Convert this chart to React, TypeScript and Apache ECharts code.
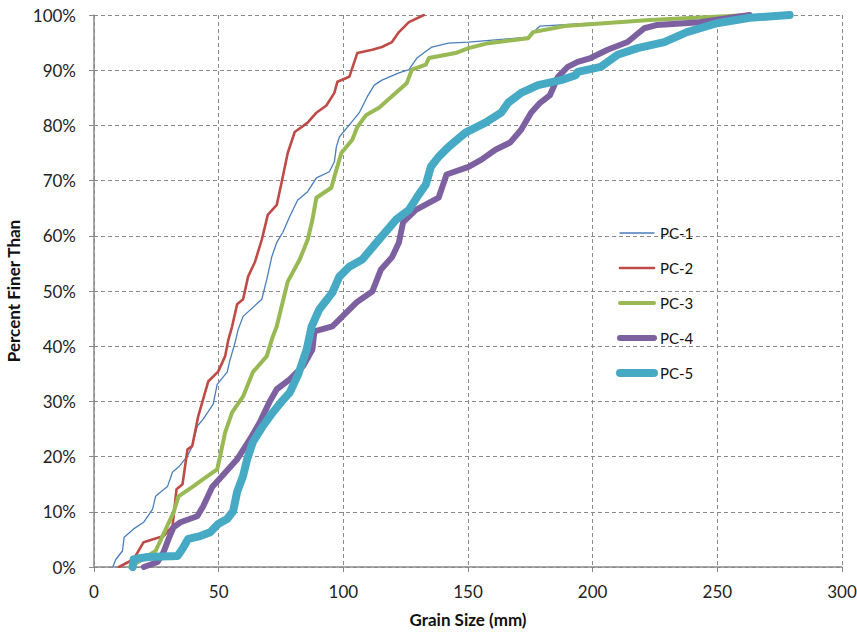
import React, { useEffect, useRef } from "react";
import * as echarts from "echarts";

const seriesNames = ["PC-1", "PC-2", "PC-3", "PC-4", "PC-5"];
const colors = ["#4A7EBB", "#BE4B48", "#98B954", "#7D60A0", "#46AAC5"];
const widths = [1.3, 2.6, 4, 6, 8];

const pc1: number[][] = [
  [7.5, 0], [8.8, 1.4], [11.4, 2.9], [12.1, 5.4], [15.9, 6.9], [19.9, 8.1], [23.5, 10.5], [24.7, 12.8],
  [26.7, 13.6], [29.5, 14.6], [31.5, 17.2], [33.9, 18.1], [37.5, 20.1], [39.4, 21.9], [41.4, 25.5],
  [43.8, 26.8], [47.8, 29.5], [49.4, 33.1], [53.4, 35.3], [54.6, 37.6], [56.6, 40.7], [57.8, 43.0],
  [59.8, 45.4], [67.3, 48.5], [69.3, 52.1], [71.3, 56.2], [73.3, 58.8], [75.7, 60.6], [78.5, 63.5],
  [81.7, 66.5], [85.7, 68.0], [89.2, 70.5], [94.4, 71.6], [96.4, 73.4], [97.2, 76.1], [98.4, 77.9],
  [102.4, 80.1], [106.4, 82.3], [109.6, 85.2], [112.4, 87.3], [115.5, 88.2], [122.3, 89.5],
  [126.3, 90.1], [129.5, 92.2], [135.5, 94.2], [142.2, 94.9], [150.2, 95.1], [161.0, 95.5],
  [174.1, 96.0], [178.9, 98.0], [194.0, 98.4], [220, 99.0], [262, 100],
];

const pc2: number[][] = [
  [10, 0], [15.9, 1.4], [19.9, 4.5], [27.9, 5.6], [31.5, 7.4], [33.1, 14.1], [35.5, 15.0], [37.5, 21.3],
  [39.4, 21.9], [41.8, 27.3], [45.8, 33.6], [49.8, 35.4], [52.6, 38.2], [53.8, 41.0], [55.4, 43.6],
  [57.4, 47.6], [59.8, 48.5], [61.8, 52.6], [64.5, 55.2], [67.3, 59.3], [69.7, 63.8], [73.3, 65.6],
  [75.3, 69.8], [77.7, 75.0], [80.5, 78.8], [85.7, 80.5], [89.2, 82.3], [93.2, 83.6], [96.4, 85.9],
  [97.6, 87.9], [102.4, 88.8], [105.6, 93.1], [111.6, 93.7], [115.5, 94.2], [119.5, 95.1],
  [122.3, 96.9], [126.3, 98.7], [132.3, 100],
];

const pc3: number[][] = [
  [14.5, 0], [15.9, 0.4], [24.7, 2.9], [27.5, 5.6], [31.9, 9.9], [33.9, 12.8], [39.8, 14.6],
  [43.8, 15.9], [49.4, 17.7], [50.6, 20.1], [52.6, 24.4], [55.4, 28.0], [59.8, 30.9], [63.7, 35.3],
  [69.3, 38.2], [71.3, 41.2], [73.3, 43.6], [77.7, 51.7], [82.5, 55.7], [85.7, 59.3], [87.6, 62.9],
  [89.2, 66.9], [95.2, 68.7], [96.4, 70.7], [99.2, 75.0], [103.6, 77.4], [105.6, 79.7], [109.2, 81.9],
  [114.3, 83.2], [121.1, 85.9], [125.5, 87.7], [127.5, 90.1], [133.1, 91.0], [134.3, 92.2],
  [145.0, 93.1], [150.2, 94.0], [158.2, 94.9], [174.1, 95.8], [176.1, 96.9], [188.8, 98.0],
  [223, 99.1], [263, 100],
];

const pc4: number[][] = [
  [20, 0], [25.5, 0.9], [27.9, 2.7], [29.9, 5.1], [31.9, 7.2], [34.7, 8.1], [41.4, 9.2], [43.8, 11.0],
  [47.4, 14.5], [51.4, 16.5], [57.4, 19.5], [62.5, 23.1], [66.5, 26.2], [70.5, 30.0], [73.3, 32.2],
  [78.5, 34.0], [84, 36.5], [87.6, 39.4], [88.4, 42.7], [95.6, 43.6], [105.2, 47.9], [111.6, 49.9],
  [115.1, 53.9], [119.5, 56.1], [122.3, 58.8], [124, 62.5], [129.1, 64.7], [138.2, 66.9],
  [141.4, 71.1], [150.2, 72.5], [155.4, 73.8], [161.0, 75.6], [166.9, 76.9], [171.3, 79.2],
  [175.3, 82.3], [178.9, 84.1], [182.9, 85.5], [186.1, 88.8], [190.0, 90.6], [194.0, 91.5],
  [199.2, 92.2], [206, 93.7], [214, 95.1], [220.7, 97.6], [225.9, 98.2], [243, 98.7],
  [256.6, 99.6], [263, 100],
];

const pc5: number[][] = [
  [15.5, 0], [15.9, 1.4], [21.5, 1.8], [33.5, 2.0], [35.5, 3.3], [37.8, 5.1], [42.6, 5.6],
  [46.6, 6.3], [49.8, 7.8], [53.4, 8.7], [55.8, 10.1], [57.4, 13.6], [59.8, 16.5], [61.4, 19.5],
  [63.7, 22.6], [67.7, 25.5], [71.7, 28.0], [75.3, 30.0], [78.5, 31.6], [82, 35], [85.3, 39.4],
  [87.3, 43.6], [90.4, 46.7], [95.6, 49.7], [98.4, 52.6], [102.4, 54.4], [107.6, 55.7],
  [114.3, 59.3], [121.1, 62.9], [126.3, 64.7], [130.3, 67.5], [133.1, 69.3], [135.1, 72.5],
  [138.2, 74.3], [142.2, 76.1], [149.0, 78.7], [157.0, 80.5], [163.3, 82.3], [166.1, 84.1],
  [171.3, 85.9], [178.1, 87.3], [187.3, 88.2], [193.2, 89.1], [194, 89.7], [203.2, 90.6],
  [210, 92.8], [218, 94.0], [228.7, 95.1], [237.8, 96.9], [249.8, 98.5], [263, 99.5], [279, 100],
];

const allData = [pc1, pc2, pc3, pc4, pc5];
const xTicks = { min: 0, max: 300, interval: 50 };
const yTicks = { min: 0, max: 100, interval: 10 };

const FONT = "Lato";

export default function App() {
  const ref = useRef<HTMLDivElement>(null);
  useEffect(() => {
    document.body.style.margin = "0";
    document.body.style.overflow = "hidden";
    if (!ref.current) return;
    const chart = echarts.init(ref.current, undefined, { renderer: "svg" });
    const gridLine = { show: true, lineStyle: { color: "#8a8a8a", type: [4, 3], width: 1 } };

    const legendTop = 233;
    const legendStep = 35;
    const legendItems: any[] = [];
    seriesNames.forEach((name, i) => {
      const y = legendTop + i * legendStep;
      legendItems.push({
        type: "line",
        shape: { x1: 620, y1: y, x2: 654, y2: y },
        style: { stroke: colors[i], lineWidth: widths[i], lineCap: "round" },
        z: 100,
      });
      legendItems.push({
        type: "text",
        x: 660,
        y,
        style: {
          text: name,
          fill: "#111",
          font: `15px ${FONT}`,
          verticalAlign: "middle",
          align: "left",
        },
        z: 100,
      });
    });

    chart.setOption({
      animation: false,
      backgroundColor: "#ffffff",
      grid: {
        left: 94,
        right: 15,
        top: 15,
        bottom: 66,
        containLabel: false,
        outerBoundsMode: "none",
      },
      graphic: legendItems,
      xAxis: {
        type: "value",
        min: xTicks.min,
        max: xTicks.max,
        interval: xTicks.interval,
        name: "Grain Size (mm)",
        nameLocation: "middle",
        nameGap: 44,
        nameTextStyle: { fontFamily: FONT, fontSize: 17, fontWeight: "bold", color: "#111" },
        axisLine: { show: true, lineStyle: { color: "#8a8a8a", width: 1.5 } },
        axisTick: { show: true, length: 5, lineStyle: { color: "#8a8a8a" } },
        axisLabel: { fontFamily: FONT, fontSize: 17, color: "#222", margin: 16 },
        splitLine: gridLine,
      },
      yAxis: {
        type: "value",
        min: yTicks.min,
        max: yTicks.max,
        interval: yTicks.interval,
        name: "Percent Finer Than",
        nameLocation: "middle",
        nameGap: 64,
        nameTextStyle: { fontFamily: FONT, fontSize: 17, fontWeight: "bold", color: "#111" },
        axisLine: { show: true, lineStyle: { color: "#8a8a8a", width: 1.5 } },
        axisTick: { show: true, length: 5, lineStyle: { color: "#8a8a8a" } },
        axisLabel: { fontFamily: FONT, fontSize: 17, color: "#222", margin: 18, formatter: "{value}%" },
        splitLine: gridLine,
      },
      series: seriesNames.map((name, i) => ({
        name,
        type: "line",
        data: allData[i],
        showSymbol: false,
        symbol: "none",
        color: colors[i],
        lineStyle: { color: colors[i], width: widths[i], cap: "round", join: "round" },
        z: 2 + i,
      })),
    });
    return () => chart.dispose();
  }, []);
  return (
    <div
      ref={ref}
      style={{ width: 857, height: 633, position: "fixed", left: 0, top: 0, overflow: "hidden" }}
    />
  );
}
